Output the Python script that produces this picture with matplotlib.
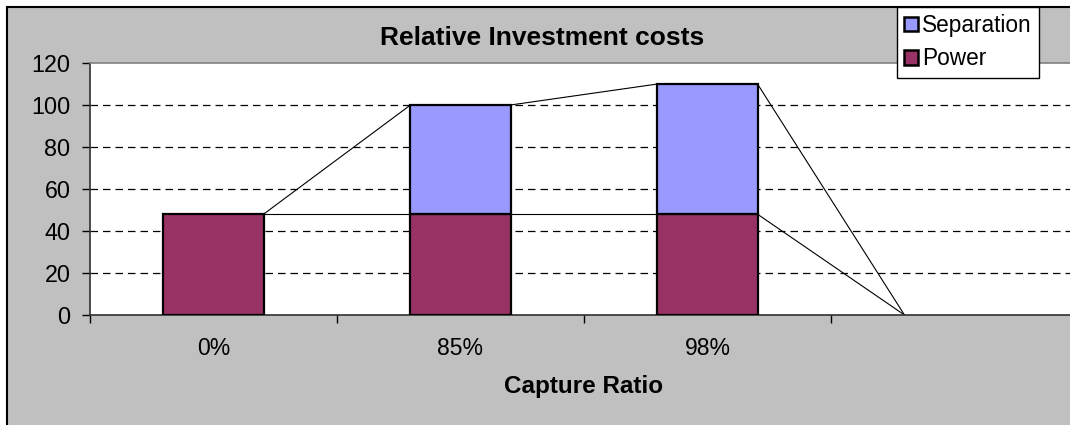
import matplotlib
matplotlib.use("Agg")
import matplotlib.pyplot as plt
from matplotlib.patches import Rectangle, Patch

plt.rcParams['font.family'] = ['Liberation Sans', 'DejaVu Sans']

# Data
categories = ['0%', '85%', '98%', '']
power = [48, 48, 48, 0]
separation = [0, 52, 62, 0]
series_names = ['Separation', 'Power']
y_ticks = [0, 20, 40, 60, 80, 100, 120]

POWER_COLOR = '#993366'
SEP_COLOR = '#9999FF'
BG = '#C0C0C0'

W, H = 1070, 425
fig = plt.figure(figsize=(W / 100, H / 100), dpi=100)
fig.patch.set_facecolor('white')

# Chart area: gray panel with black border
fig.add_artist(Rectangle((7 / W, -0.1), 1.2, (H - 7) / H + 0.1,
                         transform=fig.transFigure, facecolor=BG,
                         edgecolor='black', linewidth=1.5, zorder=-10))

ax = fig.add_axes([90 / W, 110 / H, (1078 - 90) / W, 252 / H])
ax.set_facecolor('white')

x = list(range(len(categories)))
bw = 0.405


def edge_widths(vals):
    # empty segments get no outline
    return [1.6 if v else 0 for v in vals]


ax.bar(x, power, width=bw, color=POWER_COLOR, edgecolor='black',
       linewidth=edge_widths(power), zorder=3)
ax.bar(x, separation, bottom=power, width=bw, color=SEP_COLOR, edgecolor='black',
       linewidth=edge_widths(separation), zorder=3)

# Series lines between adjacent stacks
tops = [p + s for p, s in zip(power, separation)]
for levels in (power, tops):
    for i in range(len(x) - 1):
        ax.plot([x[i] + bw / 2, x[i + 1] - bw / 2], [levels[i], levels[i + 1]],
                color='black', linewidth=0.8, zorder=2)

ax.set_xlim(-0.5, len(categories) - 0.5)
ax.set_ylim(0, 120)
ax.set_yticks(y_ticks)
ax.set_yticklabels([str(v) for v in y_ticks], fontsize=16.8)
ax.tick_params(axis='y', length=6, width=1, pad=8, direction='out')

ax.set_xticks(x)
ax.set_xticklabels(categories, fontsize=16.5)
ax.tick_params(axis='x', which='major', length=0, pad=16)
ax.set_xticks([i - 0.5 for i in x], minor=True)
ax.tick_params(axis='x', which='minor', length=6, width=1, direction='out')

for v in y_ticks[1:-1]:
    ax.axhline(v, color='black', linewidth=0.9, linestyle=(0, (6, 4)), zorder=1)

ax.spines['top'].set_color('#808080')
ax.spines['right'].set_visible(False)
ax.spines['left'].set_color('#303030')
ax.spines['bottom'].set_color('#303030')
for s in ax.spines.values():
    s.set_linewidth(1.2)

fig.text(542 / W, 1 - 38 / H, 'Relative Investment costs', ha='center', va='center',
         fontsize=19, fontweight='bold')
fig.text(584 / W, 1 - 387 / H, 'Capture Ratio', ha='center', va='center',
         fontsize=17.5, fontweight='bold')

handles = [Patch(facecolor=SEP_COLOR, edgecolor='black', linewidth=1.8),
           Patch(facecolor=POWER_COLOR, edgecolor='black', linewidth=1.8)]
leg = fig.legend(handles, series_names, loc='upper left',
                 bbox_to_anchor=(897 / W, 1 - 7 / H), fontsize=16.3,
                 frameon=True, fancybox=False, framealpha=1, edgecolor='black',
                 handlelength=0.6, handleheight=0.6, handletextpad=0.2,
                 borderpad=0.32, labelspacing=0.45, borderaxespad=0)
leg.get_frame().set_linewidth(1.0)

fig.savefig('out.png', dpi=100)
